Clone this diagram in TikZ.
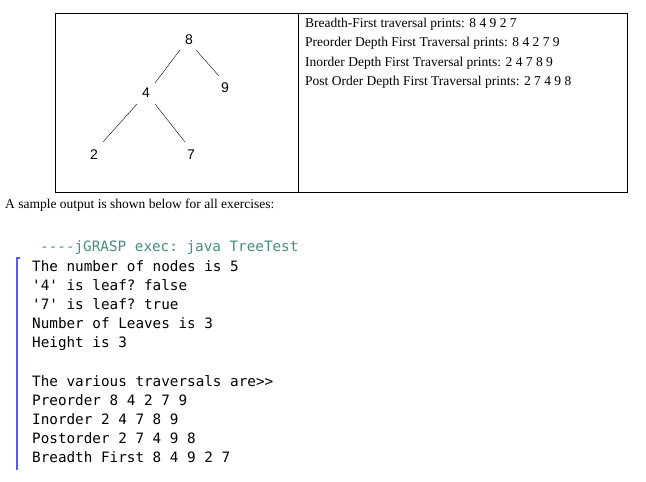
\documentclass[tikz,border=0pt]{standalone}
\usepackage{fontspec}
\setmainfont{Liberation Serif}
\setsansfont{Liberation Sans}
\setmonofont{DejaVu Sans Mono}
\definecolor{hdr}{RGB}{70,140,130}
\definecolor{bar}{RGB}{90,90,230}
\begin{document}
\begin{tikzpicture}[x=1pt,y=-1pt]
    \tikzset{
        key/.style={font=\sffamily\fontsize{14}{14}\selectfont, inner sep=1pt},
        txt/.style={font=\fontsize{13.5}{13.5}\selectfont, anchor=base west, inner sep=0pt},
        con/.style={font=\ttfamily\fontsize{14.3}{14.3}\selectfont, anchor=base west, inner sep=0pt}
    }
    \useasboundingbox (0,0) rectangle (646,482);
    % table
    \draw (55,13) rectangle (627,192);
    \draw (298,13) -- (298,192);
    % tree
    \node [key] (n8) at (189,40) {8};
    \node [key] (n9) at (225,88) {9};
    \node [key] (n4) at (146,93) {4};
    \node [key] (n2) at (94,155) {2};
    \node [key] (n7) at (191,155) {7};
    \draw (196,50) -- (219,76);
    \draw (180,50) -- (155,83);
    \draw (137,104) -- (103,142);
    \draw (155,104) -- (185,142);
    % traversals
    \node [txt] (t1) at (305,27) {Breadth-First traversal prints: 8 4 9 2 7};
    \node [txt] (t2) at (305,46.5) {Preorder Depth First Traversal prints: 8 4 2 7 9};
    \node [txt] (t3) at (305,66) {Inorder Depth First Traversal prints: 2 4 7 8 9};
    \node [txt] (t4) at (305,85.5) {Post Order Depth First Traversal prints: 2 7 4 9 8};
    \node [txt] (cap) at (5,208) {A sample output is shown below for all exercises:};
    % console
    \draw [bar, line width=1.2pt] (20,258) -- (17,258) -- (17,470);
    \node [con, text=hdr] (h) at (40,251) {----jGRASP exec: java TreeTest};
    \node [con] (l1) at (32,271) {The number of nodes is 5};
    \node [con] (l2) at (32,290) {'4' is leaf? false};
    \node [con] (l3) at (32,309) {'7' is leaf? true};
    \node [con] (l4) at (32,328) {Number of Leaves is 3};
    \node [con] (l5) at (32,347) {Height is 3};
    \node [con] (l6) at (32,386) {The various traversals are>>};
    \node [con] (l7) at (32,405) {Preorder 8 4 2 7 9};
    \node [con] (l8) at (32,424) {Inorder 2 4 7 8 9};
    \node [con] (l9) at (32,443) {Postorder 2 7 4 9 8};
    \node [con] (l10) at (32,462) {Breadth First 8 4 9 2 7};
\end{tikzpicture}
\end{document}
